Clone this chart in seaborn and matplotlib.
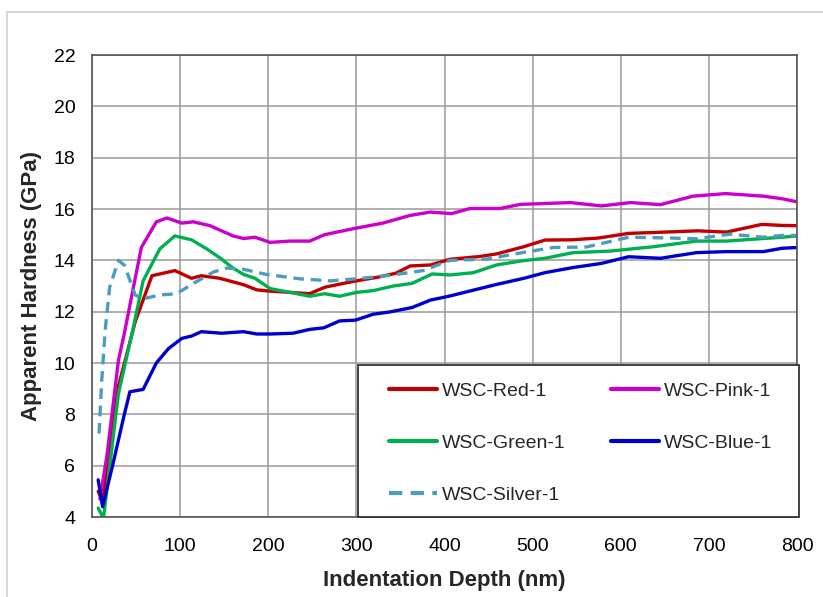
import numpy as np
import pandas as pd
import seaborn as sns
import matplotlib
matplotlib.use('Agg')
from matplotlib import pyplot as plt
from matplotlib.patches import Rectangle

# datos
red_x = [7, 12, 20, 30, 49, 68, 81, 94, 113, 124, 145, 172, 187, 202, 225, 247, 264, 285, 300, 327, 345, 361, 384, 406, 440, 459, 490, 514, 545, 575, 609, 650, 687, 720, 760, 783, 800]
red_y = [5.0, 4.6, 6.8, 9.1, 11.6, 13.4, 13.5, 13.6, 13.3, 13.4, 13.3, 13.05, 12.85, 12.8, 12.75, 12.7, 12.95, 13.1, 13.2, 13.36, 13.5, 13.78, 13.82, 14.04, 14.15, 14.25, 14.53, 14.79, 14.8, 14.87, 15.05, 15.1, 15.15, 15.1, 15.4, 15.36, 15.35]

pink_x = [9, 17, 30, 37, 45, 56, 73, 85, 102, 115, 134, 160, 172, 185, 202, 225, 247, 264, 299, 330, 361, 384, 408, 429, 463, 486, 543, 578, 611, 645, 682, 719, 762, 783, 800]
pink_y = [4.7, 6.4, 10.1, 11.2, 12.6, 14.5, 15.5, 15.65, 15.45, 15.5, 15.35, 14.95, 14.85, 14.9, 14.7, 14.75, 14.75, 15.0, 15.25, 15.45, 15.75, 15.88, 15.82, 16.02, 16.02, 16.18, 16.25, 16.12, 16.25, 16.17, 16.5, 16.6, 16.5, 16.4, 16.28]

green_x = [7, 13, 30, 47, 58, 77, 94, 113, 130, 145, 160, 172, 185, 202, 225, 247, 264, 281, 300, 319, 342, 363, 386, 406, 433, 459, 490, 514, 546, 588, 637, 686, 720, 783, 800]
green_y = [4.35, 3.95, 8.8, 11.4, 13.2, 14.45, 14.95, 14.8, 14.45, 14.1, 13.7, 13.45, 13.3, 12.9, 12.75, 12.6, 12.7, 12.6, 12.75, 12.82, 13.0, 13.1, 13.47, 13.43, 13.52, 13.82, 13.99, 14.08, 14.3, 14.36, 14.53, 14.75, 14.75, 14.9, 14.95]

blue_x = [7, 12, 24, 36, 43, 58, 73, 87, 102, 113, 124, 147, 172, 187, 202, 228, 247, 263, 281, 299, 319, 338, 363, 384, 406, 433, 459, 490, 514, 546, 578, 609, 645, 686, 720, 762, 783, 800]
blue_y = [5.45, 4.4, 6.1, 7.9, 8.88, 8.97, 10.0, 10.57, 10.96, 11.05, 11.22, 11.16, 11.22, 11.13, 11.13, 11.16, 11.31, 11.37, 11.64, 11.67, 11.9, 11.99, 12.16, 12.45, 12.61, 12.84, 13.06, 13.3, 13.52, 13.72, 13.88, 14.14, 14.08, 14.3, 14.34, 14.34, 14.47, 14.5]

silver_x = [8, 11, 15, 20, 30, 37, 49, 58, 77, 96, 115, 138, 153, 172, 198, 236, 270, 300, 334, 376, 406, 448, 493, 524, 561, 609, 656, 686, 724, 762, 783, 800]
silver_y = [7.25, 9.3, 11.3, 12.95, 14.0, 13.8, 12.65, 12.5, 12.65, 12.7, 13.1, 13.55, 13.7, 13.65, 13.45, 13.28, 13.2, 13.28, 13.4, 13.6, 14.0, 14.05, 14.33, 14.5, 14.52, 14.9, 14.87, 14.84, 15.02, 14.9, 14.97, 14.97]

names = ['WSC-Red-1', 'WSC-Pink-1', 'WSC-Green-1', 'WSC-Blue-1', 'WSC-Silver-1']
colors = ['#C00000', '#CC00CC', '#00B050', '#0000CC', '#4A9EBB']

# se arma un DataFrame en formato largo
series = [(red_x, red_y), (pink_x, pink_y), (green_x, green_y), (blue_x, blue_y), (silver_x, silver_y)]
frames = []
for name, (xs, ys) in zip(names, series):
    frames.append(pd.DataFrame({'depth': xs, 'hardness': ys, 'sample': name}))
df = pd.concat(frames, ignore_index=True)

sns.set_style("white")
plt.rcParams['font.family'] = ['Liberation Sans', 'DejaVu Sans']

fig = plt.figure(figsize=(8.23, 5.97), dpi=100)
ax = fig.add_axes([92 / 823, 1 - 517 / 597, 705 / 823, 462 / 597])

dashes = {n: '' for n in names}
dashes['WSC-Silver-1'] = (3.2, 2.0)
sns.lineplot(data=df, x='depth', y='hardness', hue='sample', style='sample',
             hue_order=names, style_order=names, palette=dict(zip(names, colors)),
             dashes=dashes, estimator=None, sort=False, linewidth=2.4, ax=ax)

ax.set_xlim(0, 800)
ax.set_ylim(4, 22)
ax.set_xticks(np.arange(0, 801, 100))
ax.set_yticks(np.arange(4, 23, 2))
ax.grid(True, color='#9a9a9a', linewidth=1.1)
ax.tick_params(axis='both', length=0, labelsize=14, colors='black')
ax.tick_params(axis='x', pad=15)
ax.tick_params(axis='y', pad=12)
for s in ax.spines.values():
    s.set_color('#555555')
    s.set_linewidth(1.2)

ax.set_xlabel('Indentation Depth (nm)', fontsize=16, fontweight='bold', labelpad=11)
ax.set_ylabel('Apparent Hardness (GPa)', fontsize=16, fontweight='bold', labelpad=8)

# marco de la leyenda dibujado aparte
ax.add_patch(Rectangle((0.377, 0.0), 0.6255, 0.329, transform=ax.transAxes, clip_on=False,
                       facecolor='white', edgecolor='#333333', linewidth=1.3, zorder=4))

# orden de la leyenda por filas: Red, Pink / Green, Blue / Silver
handles, labels = ax.get_legend_handles_labels()
lookup = dict(zip(labels, handles))
order = ['WSC-Red-1', 'WSC-Green-1', 'WSC-Silver-1', 'WSC-Pink-1', 'WSC-Blue-1']
leg = ax.legend([lookup[k] for k in order], order,
                loc='upper left', bbox_to_anchor=(0.421, 0.292),
                ncol=2, fontsize=14, frameon=False, borderaxespad=0, borderpad=0,
                handlelength=2.47, handletextpad=0.25, labelspacing=1.78,
                columnspacing=2.35)
leg.set_zorder(5)
for line in leg.get_lines():
    line.set_linewidth(3)

# borde gris claro de la figura
fig.patches.append(Rectangle((7 / 823, -0.1), 1.2, 1 - 12 / 597 + 0.1, transform=fig.transFigure,
                             fill=False, edgecolor='#d0d0d0', linewidth=1.2))

plt.savefig('out.png', dpi=100)
